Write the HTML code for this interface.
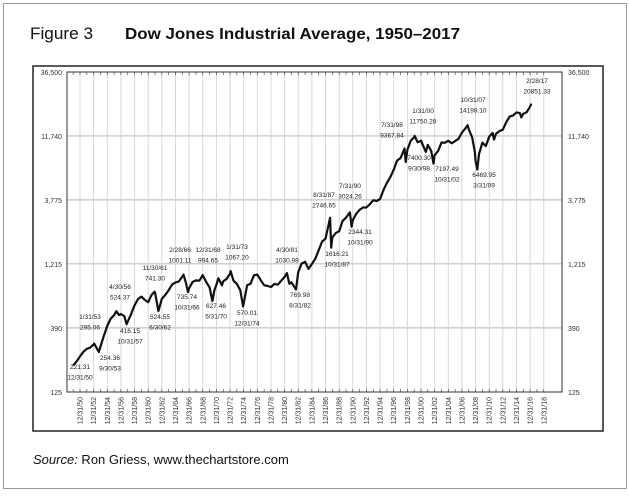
<!DOCTYPE html>
<html><head><meta charset="utf-8"><style>
body{margin:0;width:630px;height:496px;background:#fff;overflow:hidden;font-family:"Liberation Sans",sans-serif}
#frame{position:absolute;left:3px;top:3px;width:622px;height:484px;border:1px solid #999}
</style></head><body>
<div id="frame"></div>
<svg id="c" width="630" height="496" style="position:absolute;left:0;top:0">
<text x="30" y="39" font-size="17" textLength="63" lengthAdjust="spacingAndGlyphs" fill="#111">Figure 3</text>
<text x="125" y="39" font-size="16" font-weight="bold" textLength="335" lengthAdjust="spacingAndGlyphs" fill="#111">Dow Jones Industrial Average, 1950–2017</text>
<rect x="33" y="66" width="570" height="365" fill="none" stroke="#222" stroke-width="1.5"/>
<text x="33" y="464" font-size="13" fill="#111"><tspan font-style="italic">Source:</tspan> Ron Griess, www.thechartstore.com</text>
<g id="grid"></g><g id="axes"></g><g id="line"></g><g id="ann"></g>
</svg>
<script>
const yTicks=[125,390,1215,3775,11740,36500];
const yTickLabels=["125","390","1,215","3,775","11,740","36,500"];
const xTickYears=[1951,1953,1955,1957,1959,1961,1963,1965,1967,1969,1971,1973,1975,1977,1979,1981,1983,1985,1987,1989,1991,1993,1995,1997,1999,2001,2003,2005,2007,2009,2011,2013,2015,2017,2019];
const xTickLabels=xTickYears.map(y=>"12/31/"+String(y-1).slice(2));
const dates=[1950.0,1950.5,1951.0,1951.5,1952.0,1952.5,1953.0,1953.08,1953.75,1954.0,1954.5,1955.0,1955.5,1956.0,1956.33,1956.7,1957.0,1957.5,1957.83,1958.0,1958.5,1959.0,1959.5,1960.0,1960.5,1961.0,1961.5,1961.92,1962.0,1962.5,1963.0,1963.5,1964.0,1964.5,1965.0,1965.5,1966.0,1966.17,1966.5,1966.83,1967.0,1967.5,1968.0,1968.5,1968.99,1969.5,1970.0,1970.42,1970.7,1971.0,1971.3,1971.8,1972.0,1972.5,1973.0,1973.08,1973.5,1974.0,1974.5,1974.92,1975.5,1976.0,1976.5,1977.0,1977.5,1978.0,1978.5,1979.0,1979.5,1980.0,1980.5,1981.0,1981.33,1981.7,1982.0,1982.67,1983.0,1983.5,1984.0,1984.5,1985.0,1985.5,1986.0,1986.5,1987.0,1987.67,1987.83,1988.0,1988.5,1989.0,1989.5,1990.0,1990.58,1990.83,1991.0,1991.5,1992.0,1992.5,1993.0,1993.5,1994.0,1994.5,1995.0,1995.5,1996.0,1996.5,1997.0,1997.5,1998.0,1998.58,1998.75,1999.0,1999.5,2000.0,2000.08,2000.5,2001.0,2001.7,2002.0,2002.5,2002.83,2003.0,2003.5,2004.0,2004.5,2005.0,2005.5,2006.0,2006.5,2007.0,2007.5,2007.83,2008.0,2008.5,2008.9,2009.0,2009.25,2009.5,2010.0,2010.5,2011.0,2011.5,2011.7,2012.0,2012.5,2013.0,2013.5,2014.0,2014.5,2015.0,2015.5,2015.7,2016.0,2016.5,2017.0,2017.17];
const values=[200,215,235,255,269,275,291,295,254,280,340,404,460,488,524,490,499,480,416,435,500,583,650,679,640,615,700,741,731,525,652,700,762,840,874,890,969,1001,880,736,785,880,905,900,995,880,800,627,760,838,940,830,890,930,1020,1067,900,850,760,570,830,852,990,1004,910,831,820,805,850,838,900,963,1031,850,875,770,1046,1220,1258,1110,1211,1330,1546,1800,1895,2747,1616,1938,2100,2168,2600,2753,3024,2344,2633,2950,3168,3300,3301,3500,3754,3700,3834,4500,5117,5650,6448,7600,7908,9388,7400,9181,10800,11497,11750,10500,10787,8850,10021,9000,7197,8341,9000,10453,10400,10783,10300,10717,11150,12463,13400,14198,13264,11400,8776,7500,6470,8500,10428,9800,11577,12400,11000,12217,12800,13104,15000,16576,16900,17823,17600,16300,17425,17900,19762,20851];
const annLabels=[["221.31","12/31/50",80,369],["1/31/53","295.06",90,319],["254.36","9/30/53",110,360],["4/30/56","524.37",120,289],["416.15","10/31/57",130,333],["11/30/61","741.30",155,270],["524.55","6/30/62",160,319],["2/28/66","1001.11",180,252],["735.74","10/31/66",187,299],["12/31/68","994.65",208,252],["627.46","5/31/70",216,308],["1/31/73","1067.20",237,249],["570.01","12/31/74",247,315],["4/30/81","1030.98",287,252],["769.98","8/31/82",300,297],["8/31/87","2746.65",324,197],["1616.21","10/31/87",337,256],["7/31/90","3024.26",350,188],["2344.31","10/31/90",360,234],["7/31/98","9367.84",392,127],["7400.30","9/30/98",419,160],["1/31/00","11750.28",423,113],["7197.49","10/31/02",447,171],["10/31/07","14198.10",473,102],["6469.95","3/31/09",484,177],["2/28/17","20851.33",537,83]];
const NS="http://www.w3.org/2000/svg";
const X0=67,X1=562,Y0=72,Y1=392;
function xs(t){return 80+(t-1951)*6.82;}
function ys(v){return Y1-(Math.log(v/125)/Math.log(36500/125))*(Y1-Y0);}
function mk(tag,attrs,parent){const e=document.createElementNS(NS,tag);for(const k in attrs)e.setAttribute(k,attrs[k]);document.getElementById(parent).appendChild(e);return e;}
yTicks.forEach((v,i)=>{
 const y=ys(v);
 if(i>0&&i<yTicks.length-1){const g=mk('line',{x1:X0,x2:X1,y1:y,y2:y,stroke:'#c0c0c0','stroke-width':1.2},'grid');
 
 }
 const l=mk('text',{x:62,y:y+3,'font-size':7,'text-anchor':'end',fill:'#333'},'axes');l.textContent=yTickLabels[i];
 
 
 const r=mk('text',{x:568,y:y+3,'font-size':7,fill:'#333'},'axes');r.textContent=yTickLabels[i];
 
 
});
xTickYears.forEach((yr,i)=>{
 const x=xs(yr);
 const g=mk('line',{x1:x,x2:x,y1:Y0,y2:Y1,stroke:'#d4d4d4','stroke-width':0.9},'grid');
 
 
 const t=mk('text',{x:0,y:0,'font-size':7,'text-anchor':'end',fill:'#333',transform:`translate(${x+2.5},397) rotate(-90)`},'axes');t.textContent=xTickLabels[i];
 
 
});
for(let yr=1950;yr<=2019;yr++){const x=xs(yr);
 const a=mk('line',{x1:x,x2:x,y1:Y0,y2:Y0+3,stroke:'#333','stroke-width':0.6},'axes');
 
 
 const b=mk('line',{x1:x,x2:x,y1:Y1,y2:Y1-3,stroke:'#333','stroke-width':0.6},'axes');
 
 }
const frame=mk('rect',{x:X0,y:Y0,width:X1-X0,height:Y1-Y0,fill:'none',stroke:'#333','stroke-width':1},'axes');


const pts=dates.map((d,i)=>xs(d).toFixed(1)+','+ys(values[i]).toFixed(1)).join(' ');
const pl=mk('polyline',{points:pts,fill:'none',stroke:'#111','stroke-width':2.2,'stroke-linejoin':'round'},'line');


annLabels.forEach(a=>{
 const t1=mk('text',{x:a[2],y:a[3],'font-size':6.5,'text-anchor':'middle',fill:'#222'},'ann');t1.textContent=a[0];
 
 
 const t2=mk('text',{x:a[2],y:a[3]+10.5,'font-size':6.5,'text-anchor':'middle',fill:'#222'},'ann');t2.textContent=a[1];
 
 
});
</script>
</body></html>
